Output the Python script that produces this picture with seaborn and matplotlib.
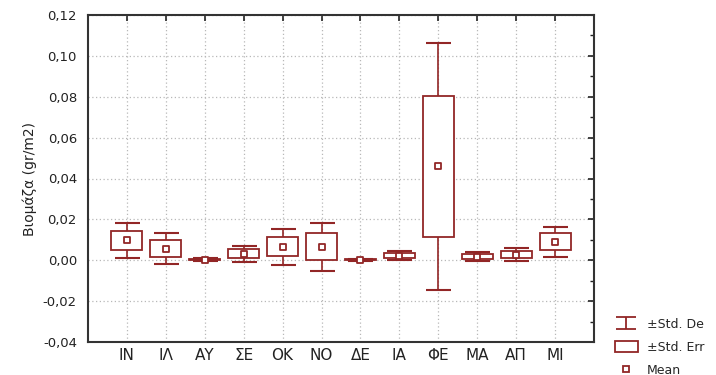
import numpy as np
import pandas as pd
import matplotlib
matplotlib.use("Agg")
import matplotlib.pyplot as plt
import seaborn as sns
from matplotlib.lines import Line2D
from matplotlib.patches import Patch
from matplotlib.path import Path
from matplotlib.ticker import MultipleLocator, FuncFormatter

categories = ["IN", "ΙΛ", "ΑΥ", "ΣΕ", "ΟΚ", "ΝΟ", "ΔΕ", "ΙΑ", "ΦΕ", "ΜΑ", "ΑΠ", "ΜΙ"]
means = [0.0097, 0.0057, 0.0002, 0.0031, 0.0066, 0.0066, 0.0002, 0.0023, 0.0460, 0.0018, 0.0028, 0.0090]
std_err = [0.0047, 0.0041, 0.0003, 0.0022, 0.0047, 0.0066, 0.0002, 0.0014, 0.0345, 0.0013, 0.0017, 0.0042]
std_dev = [0.0087, 0.0075, 0.0008, 0.0040, 0.0088, 0.0118, 0.0005, 0.0023, 0.0605, 0.0020, 0.0030, 0.0075]
legend_labels = ["±Std. De", "±Std. Err", "Mean"]

sns.set_style("white")
plt.rcParams["font.family"] = ["DejaVu Sans"]
plt.rcParams["axes.unicode_minus"] = False

RED = "#922626"
GRID = "#b8b8b8"

df = pd.DataFrame({"cat": categories, "mean": means, "se": std_err, "sd": std_dev})
xpos = np.arange(len(df))

fig = plt.figure(figsize=(7.16, 3.75), dpi=100)
ax = fig.add_axes([88 / 716, 1 - 342 / 375, (594 - 88) / 716, (342 - 15) / 375])

# whiskers (SD)
ax.errorbar(xpos, df["mean"], yerr=df["sd"], fmt="none", ecolor=RED,
            elinewidth=1.2, capsize=9, capthick=1.5, zorder=2)
# boxes (SE)
ax.bar(xpos, 2 * df["se"], bottom=df["mean"] - df["se"], width=0.8,
       facecolor="white", edgecolor=RED, linewidth=1.3, zorder=3)
# means
sns.scatterplot(data=df, x="cat", y="mean", marker="s", s=22, facecolor="white",
                edgecolor=RED, linewidth=1.3, zorder=4, ax=ax, legend=False)

ax.set_xlim(-1, len(df))
ax.set_ylim(-0.04, 0.12)
ax.set_xticks(xpos)
ax.set_xticklabels(categories)
ax.yaxis.set_major_locator(MultipleLocator(0.02))
ax.yaxis.set_minor_locator(MultipleLocator(0.01))
ax.yaxis.set_major_formatter(FuncFormatter(lambda v, p: f"{v:.2f}".replace(".", ",")))

ax.grid(True, which="major", linestyle=(0, (1, 2)), color=GRID, linewidth=0.9, zorder=0)
ax.set_axisbelow(True)

ax.tick_params(axis="both", which="both", direction="in", top=True, right=True,
               colors="#222222")
ax.tick_params(axis="y", which="major", length=4, width=1.2, labelsize=9.5, pad=8)
ax.tick_params(axis="y", which="minor", length=3, width=1.0)
ax.tick_params(axis="x", which="major", length=4, width=1.2, labelsize=11, pad=4)
for lab in ax.get_xticklabels():
    lab.set_color("#222222")
for lab in ax.get_yticklabels():
    lab.set_color("#222222")
for sp in ax.spines.values():
    sp.set_color("#333333")
    sp.set_linewidth(1.5)

ax.set_xlabel("")
ax.set_ylabel("Βιομάζα (gr/m2)", fontsize=10, color="#222222", labelpad=4)

# legend
ibeam = Path([(-1, 0.6), (1, 0.6), (0, 0.6), (0, -0.6), (-1, -0.6), (1, -0.6)],
             [Path.MOVETO, Path.LINETO, Path.MOVETO, Path.LINETO, Path.MOVETO, Path.LINETO])
handles = [
    Line2D([], [], marker=ibeam, markersize=14.5, linestyle="none", color=RED,
           markeredgewidth=1.3, markerfacecolor="none"),
    Patch(facecolor="white", edgecolor=RED, linewidth=1.3),
    Line2D([], [], marker="s", markersize=5, linestyle="none", markerfacecolor="white",
           markeredgecolor=RED, markeredgewidth=1.3),
]
fig.legend(handles, legend_labels, loc="upper left", bbox_to_anchor=(615 / 716, 1 - 318 / 375),
           frameon=False, fontsize=9, borderpad=0, borderaxespad=0, handlelength=1.8,
           handleheight=1.0, handletextpad=0.75, labelspacing=0.78)

fig.savefig("out.png", dpi=100)
